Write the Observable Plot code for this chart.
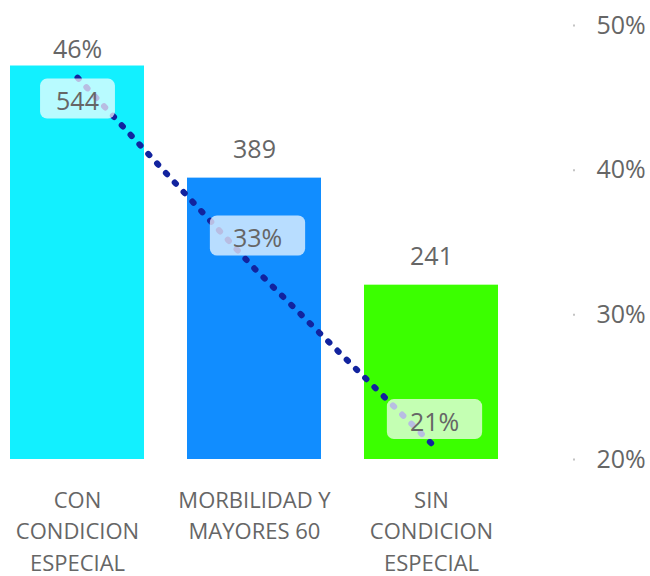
<!DOCTYPE html>
<html><head><meta charset="utf-8">
<script src="https://cdn.jsdelivr.net/npm/d3@7"></script>
<script src="https://cdn.jsdelivr.net/npm/@observablehq/plot@0.6"></script>
<style>body{margin:0;background:#fff} svg{display:block}</style>
</head><body>
<div id="chart"></div>
<script>
const categories = ["CON CONDICION ESPECIAL", "MORBILIDAD Y MAYORES 60", "SIN CONDICION ESPECIAL"];
const tickLabels = ["CON\nCONDICION\nESPECIAL", "MORBILIDAD Y\nMAYORES 60", "SIN\nCONDICION\nESPECIAL"];
const counts = [544, 389, 241];
const shares = [0.464, 0.332, 0.211];
const barColors = ["#12F0FF", "#118DFF", "#3BFF00"];
const countDomain = [0, 600];
const shareDomain = [0.2, 0.5];
const shareTicks = [0.2, 0.3, 0.4, 0.5];
// label texts exactly as displayed in the source (first pair appears swapped)
const barLabelText = ["46%", "389", "241"];
const lineLabelText = ["544", "33%", "21%"];

// label placement offsets (pixels)
const barLabelDy = [-8, -20, -20];
const lineLabelDy = [24.5, -29.5, -21];
const lineLabelDx = [0, 3, 3];

const data = categories.map((c, i) => ({
  cat: c, count: counts[i], share: shares[i],
  barLabel: barLabelText[i], lineLabel: lineLabelText[i]
}));

// map counts (hidden left axis) onto the visible share axis
const countToShare = v => shareDomain[0] + (v - countDomain[0]) / (countDomain[1] - countDomain[0]) * (shareDomain[1] - shareDomain[0]);

const textColor = "#666666";
const font = "'Open Sans', 'Noto Sans', sans-serif";

const lineLabelMarks = data.map((d, k) => Plot.text(data, {
  filter: (e, i) => i === k,
  x: "cat", y: "share", text: "lineLabel",
  dx: lineLabelDx[k], dy: lineLabelDy[k],
  fontSize: 25, fill: textColor, lineAnchor: "middle"
}));
const barLabelMarks = data.map((d, k) => Plot.text(data, {
  filter: (e, i) => i === k,
  x: "cat", y: e => countToShare(e.count), text: "barLabel",
  dy: barLabelDy[k], fontSize: 25, fill: textColor, lineAnchor: "bottom"
}));

const chart = Plot.plot({
  width: 650, height: 576,
  marginTop: 25, marginBottom: 117, marginLeft: 10, marginRight: 152,
  style: {fontFamily: font, fontSize: "24px", color: textColor, background: "#fff"},
  x: {domain: categories, paddingInner: 0.243, paddingOuter: 0, axis: null},
  y: {domain: shareDomain, axis: null},
  color: {domain: categories, range: barColors},
  marks: [
    Plot.barY(data, {x: "cat", y1: shareDomain[0], y2: d => countToShare(d.count), fill: "cat"}),
    Plot.line(data, {x: "cat", y: "share", stroke: "#12239E", strokeWidth: 6,
      strokeDasharray: "1.8 11.2", strokeLinecap: "round"}),
    ...lineLabelMarks,
    ...barLabelMarks,
    Plot.axisY({anchor: "right", ticks: shareTicks, tickFormat: d3.format(".0%"),
      tickSize: 2, tickPadding: 22, dx: 74, stroke: "#c4c4c4", strokeWidth: 2,
      fill: textColor, fontSize: 25, label: null}),
    Plot.axisX({anchor: "bottom", tickSize: 0, tickPadding: 26, fontSize: 22,
      lineHeight: 1.43, fill: textColor, label: null,
      tickFormat: c => tickLabels[categories.indexOf(c)]})
  ]
});
document.getElementById("chart").append(chart);

// rounded translucent backgrounds behind the line labels
const svgNS = "http://www.w3.org/2000/svg";
Array.from(chart.querySelectorAll("text"))
  .filter(t => lineLabelText.includes(t.textContent.trim()))
  .forEach(t => {
    const b = t.getBBox();
    const pad = t.textContent.includes("%") ? 23 : 16;
    const w = b.width + 2 * pad, h = 40;
    const r = document.createElementNS(svgNS, "rect");
    r.setAttribute("x", b.x + b.width / 2 - w / 2);
    r.setAttribute("y", b.y + b.height / 2 - h / 2 - 1.5);
    r.setAttribute("width", w);
    r.setAttribute("height", h);
    r.setAttribute("rx", 7);
    r.setAttribute("ry", 7);
    r.style.fill = "#ffffff";
    r.style.fillOpacity = "0.7";
    r.style.stroke = "none";
    const tr = t.getAttribute("transform");
    if (tr) r.setAttribute("transform", tr);
    t.parentNode.insertBefore(r, t);
  });
</script>
</body></html>
